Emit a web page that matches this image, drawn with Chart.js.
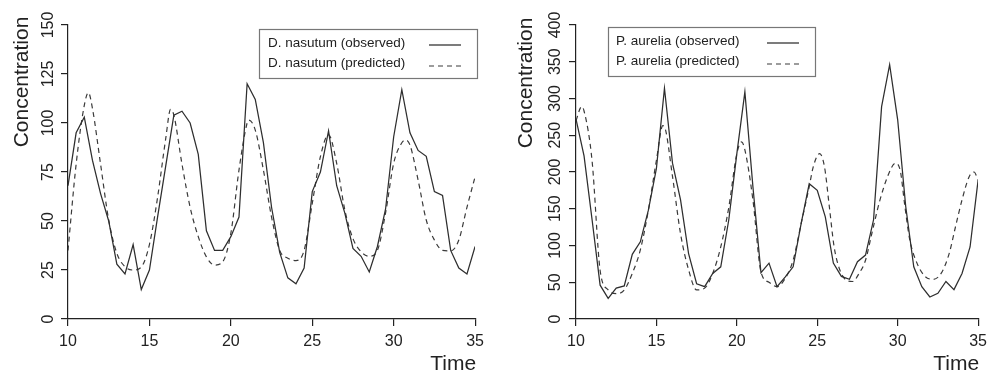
<!DOCTYPE html>
<html>
<head>
<meta charset="utf-8">
<script src="https://cdn.jsdelivr.net/npm/chart.js@4/dist/chart.umd.min.js"></script>
<style>
  body { margin: 0; background: #fff; }
  #wrap { position: relative; width: 993px; height: 373px; }
  canvas { position: absolute; top: 0; }
</style>
</head>
<body>
<div id="wrap">
  <canvas id="leftchart" width="490" height="373" style="left:0px"></canvas>
  <canvas id="rightchart" width="503" height="373" style="left:490px"></canvas>
</div>
<script>
// observation times (days)
const timeObs = [10, 10.5, 11, 11.5, 12, 12.5, 13, 13.5, 14, 14.5,
  15, 15.5, 16, 16.5, 17, 17.5, 18, 18.5, 19, 19.5,
  20, 20.5, 21, 21.5, 22, 22.5, 23, 23.5, 24, 24.5,
  25, 25.5, 26, 26.5, 27, 27.5, 28, 28.5, 29, 29.5,
  30, 30.5, 31, 31.5, 32, 32.5, 33, 33.5, 34, 34.5, 35];

// D. nasutum
const nasutumObserved = [68, 95, 103, 81, 64, 50, 28, 23, 38, 15,
  25, 52, 78, 104, 106, 100, 84, 45, 35, 35,
  42, 52, 120, 112, 90, 57, 34, 21, 18, 26,
  65, 75, 96, 68, 54, 36, 32, 24, 37, 56,
  93, 117, 95, 86, 83, 65, 63, 35, 26, 23, 37];
const nasutumPredTime = [10, 10.5, 11, 11.25, 11.5, 12, 12.5, 13, 13.5, 14,
  14.5, 15, 15.5, 16, 16.3, 16.5, 17, 17.5, 18, 18.5,
  19, 19.5, 20, 20.5, 21, 21.1, 21.5, 22, 22.5, 23,
  23.5, 24, 24.5, 25, 25.5, 26, 26.5, 27, 27.5, 28,
  28.5, 29, 29.5, 30, 30.5, 30.75, 31, 31.5, 32, 32.5,
  33, 33.5, 34, 34.5, 35];
const nasutumPredicted = [35, 79, 109, 115.5, 107.5, 79, 50.5, 33.5, 26.7, 25,
  26.5, 38, 62, 92, 107, 104, 79, 57, 42, 31.7,
  27.5, 29.2, 43.7, 76, 100, 101.5, 96.4, 76, 52, 35,
  31, 29.8, 35, 59, 82.8, 94, 79.4, 55.6, 41, 34.3,
  32, 35, 54, 79.4, 89.9, 91.3, 88.8, 70.9, 50.5, 40.3,
  35, 34.7, 40.3, 57, 72.6];

// P. aurelia
const aureliaObserved = [272, 222, 135, 46, 28, 42, 45, 88, 105, 148,
  205, 314, 212, 162, 89, 48, 44, 62, 71, 135,
  225, 309, 180, 63, 76, 44, 57, 71, 130, 184,
  175, 139, 76, 58, 54, 78, 87, 135, 289, 346,
  271, 153, 71, 44, 30, 35, 51, 40, 62, 98, 189];
const aureliaPredTime = [10, 10.35, 10.5, 11, 11.5, 12, 12.5, 13, 13.5, 14,
  14.5, 15, 15.4, 15.5, 16, 16.5, 17, 17.5, 18, 18.5,
  19, 19.5, 20, 20.3, 20.5, 21, 21.5, 22, 22.5, 23,
  23.5, 24, 24.5, 24.75, 25.15, 25.45, 25.75, 26.05, 26.4, 26.8,
  27.2, 27.6, 28, 28.4, 28.9, 29.45, 29.85, 30.15, 30.45, 30.75,
  31.2, 31.7, 32.2, 32.7, 33.2, 33.6, 34, 34.45, 34.75, 35];
const aureliaPredicted = [270, 289, 283, 215, 66, 39.5, 34.5, 39.5, 62, 94,
  148, 216, 263, 261.6, 194, 116, 67, 39.5, 42, 62,
  98, 152, 225, 241, 230, 162, 64, 50, 44, 55,
  80, 130, 180, 207, 225, 207, 153, 98, 67, 53,
  51, 62, 80, 117, 162, 198, 212, 203, 153, 108,
  76, 58, 54, 62, 89, 126, 162, 194, 200, 189];

const xTicks = [10, 15, 20, 25, 30, 35];
const FONT = '"Liberation Sans", Arial, Helvetica, sans-serif';

function toPoints(xs, ys) {
  return xs.map((x, i) => ({ x: x, y: ys[i] }));
}

// R-like axis labels, axis titles and boxed legend
const rStyle = {
  id: "rStyle",
  afterDraw(chart, args, o) {
    const ctx = chart.ctx;
    const ys = chart.scales.y;
    ctx.save();
    ctx.fillStyle = "#222";
    ctx.textAlign = "center";
    ctx.textBaseline = "middle";
    ctx.font = "16px " + FONT;
    ys.ticks.forEach((t) => {
      const py = ys.getPixelForValue(t.value);
      ctx.save();
      ctx.translate(o.tickX, py);
      ctx.rotate(-Math.PI / 2);
      ctx.fillText(t.label, 0, 0);
      ctx.restore();
    });

    ctx.font = "21px " + FONT;
    ctx.save();
    ctx.translate(o.titleX, o.titleY);
    ctx.rotate(-Math.PI / 2);
    ctx.fillText("Concentration", 0, 0);
    ctx.restore();

    ctx.textAlign = "right";
    ctx.textBaseline = "alphabetic";
    ctx.fillText("Time", chart.chartArea.right + 1, o.timeY);

    // legend
    const lg = o.legend;
    ctx.fillStyle = "#fff";
    ctx.fillRect(lg.x, lg.y, lg.w, lg.h);
    ctx.strokeStyle = "#777";
    ctx.lineWidth = 1.2;
    ctx.strokeRect(lg.x + 0.5, lg.y + 0.5, lg.w, lg.h);
    ctx.font = "13.5px " + FONT;
    ctx.textAlign = "left";
    ctx.textBaseline = "middle";
    ctx.fillStyle = "#222";
    chart.data.datasets.forEach((ds, i) => {
      ctx.fillText(ds.label, lg.textX, lg.textY[i]);
      ctx.beginPath();
      ctx.setLineDash(ds.borderDash || []);
      ctx.strokeStyle = ds.borderColor;
      ctx.lineWidth = ds.borderWidth;
      ctx.moveTo(lg.lineX1, lg.lineY[i]);
      ctx.lineTo(lg.lineX2, lg.lineY[i]);
      ctx.stroke();
    });
    ctx.restore();
  },
};

function makeChart(canvasId, opts) {
  const canvas = document.getElementById(canvasId).getContext("2d");
  return new Chart(canvas, {
    type: "line",
    data: {
      datasets: [
        {
          label: opts.name + " (observed)",
          data: toPoints(timeObs, opts.observed),
          borderColor: "#2e2e2e",
          borderWidth: 1.25,
          pointRadius: 0,
          tension: 0,
        },
        {
          label: opts.name + " (predicted)",
          data: toPoints(opts.predTime, opts.predicted),
          borderColor: "#3a3a3a",
          borderWidth: 1.2,
          borderDash: [5, 4],
          pointRadius: 0,
          cubicInterpolationMode: "monotone",
        },
      ],
    },
    options: {
      responsive: false,
      animation: false,
      devicePixelRatio: 1,
      layout: { padding: { top: 25, right: opts.padRight, left: 0, bottom: 0 } },
      plugins: {
        legend: { display: false },
        tooltip: { enabled: false },
        rStyle: opts.style,
      },
      scales: {
        x: {
          type: "linear",
          min: 10,
          max: 35,
          afterFit: (s) => { s.height = 54; },
          afterBuildTicks: (s) => { s.ticks = xTicks.map((v) => ({ value: v })); },
          ticks: { color: "#222", font: { size: 16, family: FONT }, padding: 6, maxRotation: 0 },
          grid: { drawOnChartArea: false, drawTicks: true, tickLength: 7, color: "#222", lineWidth: 1.2 },
          border: { display: true, color: "#222", width: 1.2 },
        },
        y: {
          type: "linear",
          min: 0,
          max: opts.yMax,
          afterFit: (s) => { s.width = opts.yWidth; },
          ticks: { display: false, stepSize: opts.yStep },
          grid: { drawOnChartArea: false, drawTicks: true, tickLength: 7, color: "#222", lineWidth: 1.2 },
          border: { display: true, color: "#222", width: 1.2 },
        },
      },
    },
    plugins: [rStyle],
  });
}

var nasutumChart = makeChart("leftchart", {
  name: "D. nasutum",
  observed: nasutumObserved,
  predTime: nasutumPredTime,
  predicted: nasutumPredicted,
  yMax: 150,
  yStep: 25,
  yWidth: 68,
  padRight: 12,
  style: {
    tickX: 49, titleX: 22, titleY: 82, timeY: 370,
    legend: { x: 259, y: 29, w: 218, h: 49, textX: 268, textY: [43.5, 63.5],
      lineX1: 429, lineX2: 461, lineY: [45, 66] },
  },
});

var aureliaChart = makeChart("rightchart", {
  name: "P. aurelia",
  observed: aureliaObserved,
  predTime: aureliaPredTime,
  predicted: aureliaPredicted,
  yMax: 400,
  yStep: 50,
  yWidth: 86,
  padRight: 9,
  style: {
    tickX: 66, titleX: 36, titleY: 83, timeY: 370,
    legend: { x: 118, y: 27, w: 207, h: 49, textX: 126, textY: [41.5, 61.5],
      lineX1: 277, lineX2: 309, lineY: [43, 64] },
  },
});
</script>
</body>
</html>
